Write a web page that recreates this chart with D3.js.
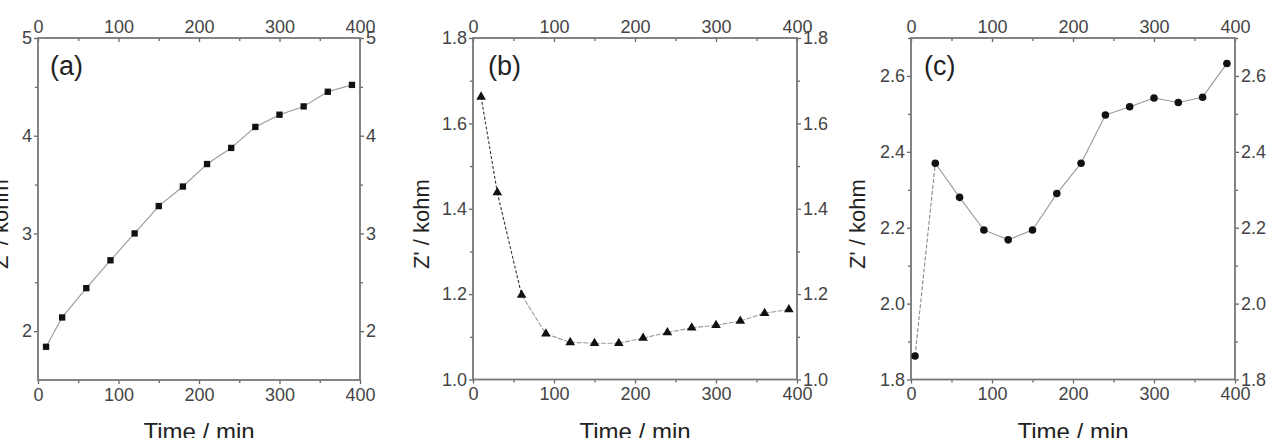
<!DOCTYPE html>
<html>
<head>
<meta charset="utf-8">
<script src="https://cdn.jsdelivr.net/npm/d3@7"></script>
<style>
  body { margin: 0; background: #fff; }
  svg { display: block; font-family: "Liberation Sans", Arial, sans-serif; }
  .tick text { fill: #444; font-size: 18px; }
  .domain { display: none; }
  .tick line { stroke: #666; stroke-width: 1.3; }
</style>
</head>
<body>
<div id="chart"></div>
<script>
// data
const timeA = [10, 30, 60, 90, 120, 150, 180, 210, 240, 270, 300, 330, 360, 390];
const zA = [1.84, 2.14, 2.44, 2.725, 3.0, 3.28, 3.48, 3.71, 3.875, 4.09, 4.215, 4.30, 4.45, 4.52];

const timeB = [10, 30, 60, 90, 120, 150, 180, 210, 240, 270, 300, 330, 360, 390];
const zB = [1.662, 1.438, 1.198, 1.107, 1.087, 1.085, 1.085, 1.097, 1.110, 1.121, 1.127, 1.137, 1.155, 1.164];

const timeC = [5, 30, 60, 90, 120, 150, 180, 210, 240, 270, 300, 330, 360, 390];
const zC = [1.862, 2.370, 2.28, 2.194, 2.168, 2.194, 2.29, 2.37, 2.497, 2.519, 2.542, 2.530, 2.544, 2.633];

const xTicks = [0, 100, 200, 300, 400];
const xMinor = [50, 150, 250, 350];
const yTicksA = [2, 3, 4, 5];
const yMinorA = [2.5, 3.5, 4.5];
const yTicksB = [1.0, 1.2, 1.4, 1.6, 1.8];
const yMinorB = [1.1, 1.3, 1.5, 1.7];
const yTicksC = [1.8, 2.0, 2.2, 2.4, 2.6];
const yMinorC = [1.9, 2.1, 2.3, 2.5, 2.7];

const W = 1269, H = 438;
const svg = d3.select("#chart").append("svg")
    .attr("width", W)
    .attr("height", H);

function drawPanel(p) {
    const x = d3.scaleLinear().domain([0, 400]).range([p.left, p.right]);
    const y = d3.scaleLinear().domain(p.yDomain).range([p.bottom, p.top]);
    const g = svg.append("g");

    // minor ticks first
    g.append("g").attr("transform", `translate(0,${p.bottom})`)
        .call(d3.axisBottom(x).tickValues(xMinor).tickSize(3).tickFormat(""));
    g.append("g").attr("transform", `translate(0,${p.top})`)
        .call(d3.axisTop(x).tickValues(xMinor).tickSize(-3).tickFormat(""));
    g.append("g").attr("transform", `translate(${p.left},0)`)
        .call(d3.axisLeft(y).tickValues(p.yMinor).tickSize(3).tickFormat(""));
    g.append("g").attr("transform", `translate(${p.right},0)`)
        .call(d3.axisRight(y).tickValues(p.yMinor).tickSize(3).tickFormat(""));

    // major ticks
    g.append("g").attr("transform", `translate(0,${p.bottom})`)
        .call(d3.axisBottom(x).tickValues(xTicks).tickSize(4).tickPadding(4));
    g.append("g").attr("transform", `translate(0,${p.top})`)
        .call(d3.axisTop(x).tickValues(xTicks).tickSize(-4).tickPadding(5));
    g.append("g").attr("transform", `translate(${p.left},0)`)
        .call(d3.axisLeft(y).tickValues(p.yTicks).tickSize(4).tickPadding(2).tickFormat(d3.format(p.fmt)));
    g.append("g").attr("transform", `translate(${p.right},0)`)
        .call(d3.axisRight(y).tickValues(p.yTicks).tickSize(4).tickPadding(2).tickFormat(d3.format(p.fmt)));

    // frame
    g.append("rect")
        .attr("x", p.left).attr("y", p.top)
        .attr("width", p.right - p.left).attr("height", p.bottom - p.top)
        .attr("fill", "none").attr("stroke", "#777").attr("stroke-width", 1.8);

    const pts = p.t.map((d, i) => ({ t: d, z: p.z[i] }));

    // connecting segments
    for (let i = 0; i < pts.length - 1; i++) {
        const st = p.segStyle(i);
        g.append("line")
            .attr("x1", x(pts[i].t)).attr("y1", y(pts[i].z))
            .attr("x2", x(pts[i + 1].t)).attr("y2", y(pts[i + 1].z))
            .attr("stroke", st.color)
            .attr("stroke-width", 1.1)
            .attr("stroke-dasharray", st.dash);
    }

    // markers
    const sym = d3.symbol().type(p.symbol).size(p.symSize);
    g.selectAll(".pt").data(pts).enter()
        .append("path")
        .attr("class", "pt")
        .attr("transform", d => `translate(${x(d.t)},${y(d.z)})`)
        .attr("d", sym)
        .attr("fill", "#111");

    // panel letter
    g.append("text")
        .attr("x", p.left + p.letterDx).attr("y", p.top + 37)
        .attr("font-size", 27).attr("fill", "#222")
        .text(p.letter);

    // axis titles
    g.append("text")
        .attr("x", (p.left + p.right) / 2).attr("y", p.bottom + 60)
        .attr("text-anchor", "middle")
        .attr("font-size", 24).attr("fill", "#222")
        .text("Time / min");

    g.append("text")
        .attr("transform", `translate(${p.left - p.yLabelOff},224) rotate(-90)`)
        .attr("text-anchor", "middle")
        .attr("font-size", 22).attr("fill", "#222")
        .text("Z' / kohm");
}

drawPanel({
    left: 38, right: 360, top: 38, bottom: 380,
    yDomain: [1.5, 5], yTicks: yTicksA, yMinor: yMinorA, fmt: "d",
    t: timeA, z: zA, symbol: d3.symbolSquare, symSize: 40,
    segStyle: () => ({ color: "#999", dash: null }),
    letter: "(a)", letterDx: 12, yLabelOff: 30
});

drawPanel({
    left: 473, right: 797, top: 38, bottom: 379.5,
    yDomain: [1.0, 1.8], yTicks: yTicksB, yMinor: yMinorB, fmt: ".1f",
    t: timeB, z: zB, symbol: d3.symbolTriangle, symSize: 40,
    segStyle: i => i < 2 ? { color: "#333", dash: "3,2" } : { color: "#999", dash: "5,1.5" },
    letter: "(b)", letterDx: 15, yLabelOff: 44
});

drawPanel({
    left: 911, right: 1235, top: 38, bottom: 379.5,
    yDomain: [1.8, 2.7], yTicks: yTicksC, yMinor: yMinorC, fmt: ".1f",
    t: timeC, z: zC, symbol: d3.symbolCircle, symSize: 45,
    segStyle: i => i === 0 ? { color: "#888", dash: "4,2" } : { color: "#999", dash: null },
    letter: "(c)", letterDx: 13, yLabelOff: 46
});
</script>
</body>
</html>
